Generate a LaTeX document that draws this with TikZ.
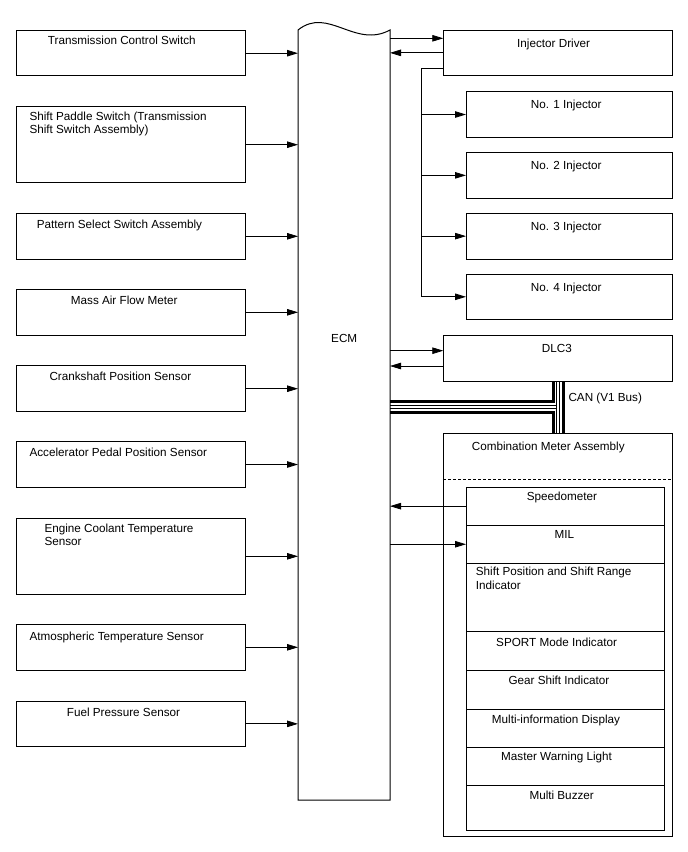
\documentclass[tikz,border=0pt]{standalone}
\usepackage{fontspec}
\setmainfont{Liberation Sans}
\usetikzlibrary{arrows.meta}
\newcommand\mybox[5]{\node[box, minimum width={(#4)-(#2)}, minimum height={(#5)-(#3)}] (#1) at ({((#2)+(#4))/2},{((#3)+(#5))/2}) {};}
\begin{document}
\begin{tikzpicture}[x=1pt,y=-1pt,
  box/.style={draw, line width=1pt, inner sep=0pt, outer sep=0pt},
  lbl/.style={anchor=base west, inner sep=0pt, font=\fontsize{11.7}{13.4}\selectfont},
  conn/.style={line width=0.8pt},
  arr/.style={conn, -{Triangle[length=11pt,width=6.5pt]}},
  dashline/.style={line width=0.9pt, dash pattern=on 3pt off 2pt}]
\useasboundingbox (0,0) rectangle (688,852);

% left boxes
\mybox{tcs}{16.7}{30.7}{245.7}{75.7}
\mybox{sps}{16.7}{106.7}{245.7}{182.7}
\mybox{pss}{16.7}{213.3}{245.7}{259.3}
\mybox{maf}{16.7}{289.3}{245.7}{335.3}
\mybox{cps}{16.7}{365.7}{245.7}{411.7}
\mybox{apps}{16.7}{441.7}{245.7}{487.3}
\mybox{ect}{16.7}{518.3}{245.7}{594.3}
\mybox{ats}{16.7}{624.3}{245.7}{670.3}
\mybox{fps}{16.7}{701}{245.7}{746.7}

\node[lbl] (t1) at (47.7,44.3) {Transmission Control Switch};
\node[lbl] (t2a) at (29.3,120) {Shift Paddle Switch (Transmission};
\node[lbl] (t2b) at (29.3,133.3) {Shift Switch Assembly)};
\node[lbl] (t3) at (36.7,228.3) {Pattern Select Switch Assembly};
\node[lbl] (t4) at (70.7,304) {Mass Air Flow Meter};
\node[lbl] (t5) at (49.3,380.7) {Crankshaft Position Sensor};
\node[lbl] (t6) at (29.3,456.7) {Accelerator Pedal Position Sensor};
\node[lbl] (t7a) at (44.3,532.3) {Engine Coolant Temperature};
\node[lbl] (t7b) at (44.3,545.7) {Sensor};
\node[lbl] (t8) at (29.3,640) {Atmospheric Temperature Sensor};
\node[lbl] (t9) at (66.7,716.7) {Fuel Pressure Sensor};

% CAN cable (drawn first, under the boxes)
\coordinate (cj) at (558.25,406.75);
\coordinate (ch0) at (390,406.75);
\coordinate (cv0) at (558.25,381);
\coordinate (cv1) at (558.25,433.3);
\draw[line width=13.5pt] (ch0) -- (cj);
\draw[line width=12.5pt] (cv0) -- (cv1);
\draw[white, line width=8.5pt] (ch0) -- (cj);
\draw[white, line width=7.5pt] (cv0) -- (cv1);
\draw[line width=0.8pt] (ch0 |- 0,405.3) -- (556.8,405.3);
\draw[line width=0.8pt] (ch0 |- 0,408.3) -- (556.8,408.3);
\draw[line width=0.8pt] (556.8,381) -- (556.8,433.3);
\draw[line width=0.8pt] (559.8,381) -- (559.8,433.3);

% ECM
\node[inner sep=0pt, outer sep=0pt, minimum width=92, minimum height=770] (ecm) at (344,415) {};
\draw[line width=1pt] (ecm.north west) .. controls +(30,-24) and +(-35,19) .. (ecm.north east) -- (ecm.south east) -- (ecm.south west) -- cycle;
\node[lbl] (ecmlbl) at (331,342) {ECM};

% right boxes
\mybox{idrv}{443.3}{30}{672.7}{75.7}
\mybox{inj1}{466}{91.7}{672.7}{137.3}
\mybox{inj2}{466}{152.7}{672.7}{198}
\mybox{inj3}{466}{213.3}{672.7}{259}
\mybox{inj4}{466}{274.3}{672.7}{319.3}
\mybox{dlc}{443.3}{335}{672.7}{381}
\mybox{cma}{443.3}{433.3}{672.7}{836.7}
\mybox{spd}{466}{487.3}{664}{525}
\mybox{mil}{466}{525}{664}{563.5}
\mybox{spi}{466}{563.5}{664}{631.7}
\mybox{sport}{466}{631.7}{664}{670}
\mybox{gsi}{466}{670}{664}{709.3}
\mybox{mid}{466}{709.3}{664}{747.3}
\mybox{mwl}{466}{747.3}{664}{785.7}
\mybox{mbz}{466}{785.7}{664}{830}

\draw[dashline] (cma.west |- 0,479.3) -- (cma.east |- 0,479.3);

\node[lbl] (tid) at (517,47) {Injector Driver};
\node[lbl] (ti1) at (530.7,108.3) {No. 1 Injector};
\node[lbl] (ti2) at (530.7,169.5) {No. 2 Injector};
\node[lbl] (ti3) at (530.7,230.5) {No. 3 Injector};
\node[lbl] (ti4) at (530.7,291.3) {No. 4 Injector};
\node[lbl] (tdlc) at (541.7,352.7) {DLC3};
\node[lbl] (tcan) at (568.3,401.7) {CAN (V1 Bus)};
\node[lbl] (tcma) at (471.7,450) {Combination Meter Assembly};
\node[lbl] (tspd) at (526.7,500.7) {Speedometer};
\node[lbl] (tmil) at (554.3,538.3) {MIL};
\node[lbl] (tspia) at (475.7,575) {Shift Position and Shift Range};
\node[lbl] (tspib) at (475.7,589.3) {Indicator};
\node[lbl] (tsport) at (496,646) {SPORT Mode Indicator};
\node[lbl] (tgsi) at (508.3,684.3) {Gear Shift Indicator};
\node[lbl] (tmid) at (491.7,723.3) {Multi-information Display};
\node[lbl] (tmwl) at (501,760) {Master Warning Light};
\node[lbl] (tmbz) at (529.3,799.3) {Multi Buzzer};

% left arrows
\foreach \n in {tcs,sps,pss,maf,cps,apps,ect,ats,fps}
  \draw[arr] (\n.east) -- (\n.east -| ecm.west);

% injector driver
\draw[arr] (ecm.east |- 0,38.3) -- (idrv.west |- 0,38.3);
\draw[arr] (idrv.west) -- (idrv.west -| ecm.east);
\coordinate (tr) at (421,68.3);
\draw[conn] (idrv.west |- tr) -- (tr) -- (tr |- inj4.west);
\foreach \n in {inj1,inj2,inj3,inj4}
  \draw[arr] (tr |- \n.west) -- (\n.west);

% DLC3
\draw[arr] (ecm.east |- 0,350.7) -- (dlc.west |- 0,350.7);
\draw[arr] (dlc.west |- 0,366) -- (ecm.east |- 0,366);

% combination meter
\draw[arr] (spd.west) -- (spd.west -| ecm.east);
\draw[arr] (mil.west -| ecm.east) -- (mil.west);
\end{tikzpicture}
\end{document}
